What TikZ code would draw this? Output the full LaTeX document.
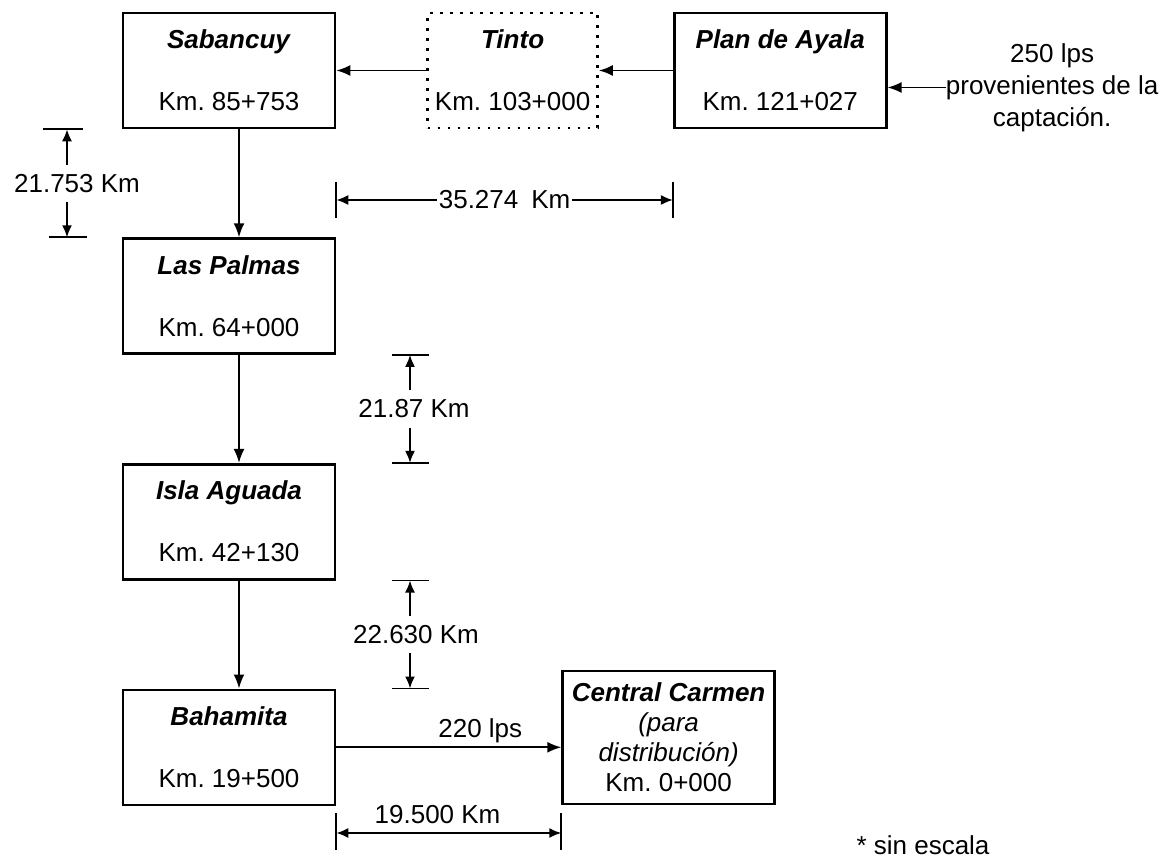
\documentclass[tikz,border=0pt]{standalone}
\usepackage{fontspec}
\setmainfont{Liberation Sans}
\usepackage{tikz}
\usetikzlibrary{positioning, arrows.meta, calc}
\frenchspacing

\begin{document}
\begin{tikzpicture}[
    node distance=54pt and 45pt,
    block/.style={
        rectangle, draw=black, line width=1.3pt, fill=white,
        minimum width=106pt, minimum height=57.5pt,
        inner sep=2pt, align=center,
        font=\fontsize{13}{15}\selectfont
    },
    arrow/.style={-{Latex[length=7pt, width=5.5pt]}, line width=0.9pt},
    dim/.style={-{Latex[length=6pt, width=5pt]}, line width=0.9pt},
    dimboth/.style={{Latex[length=6pt, width=5pt]}-{Latex[length=6pt, width=5pt]}, line width=0.9pt},
    tick/.style={line width=0.9pt},
    lbl/.style={font=\fontsize{13}{15}\selectfont, inner sep=4.5pt}
]

\useasboundingbox (0,0) rectangle (582.5pt,-430pt);

% Top row: intake towards Sabancuy
\node[block] (sab) at (114.5pt,-35.25pt) {\textbf{\textit{Sabancuy}}\\[16pt]Km. 85+753};
\node[block, right=45pt of sab, minimum width=85pt, dash pattern=on 1.3pt off 3.7pt] (tinto) {\textbf{\textit{Tinto}}\\[16pt]Km. 103+000};
\node[block, right=37pt of tinto] (plan) {\textbf{\textit{Plan de Ayala}}\\[16pt]Km. 121+027};
\node[lbl, inner sep=0pt, align=center, font=\fontsize{13}{16}\selectfont,
      right=29pt of plan, yshift=-8.5pt] (src) {250 lps\\provenientes de la\\captación.};

\draw[arrow] (src.west) -- (src.west -| plan.east);
\draw[arrow] (plan.west) -- (tinto.east);
\draw[arrow] (tinto.west) -- (sab.east);

% Column down to Bahamita
\node[block, below=of sab] (lasp) {\textbf{\textit{Las Palmas}}\\[16pt]Km. 64+000};
\node[block, below=of lasp] (isla) {\textbf{\textit{Isla Aguada}}\\[16pt]Km. 42+130};
\node[block, below=of isla] (bah) {\textbf{\textit{Bahamita}}\\[16pt]Km. 19+500};
\node[block, right=112.5pt of bah, yshift=5pt, minimum height=66.5pt] (cen)
    {\textbf{\textit{Central Carmen}}\\\textit{(para}\\\textit{distribución)}\\Km. 0+000};

\draw[arrow] ([xshift=5pt]sab.south) -- ([xshift=5pt]lasp.north);
\draw[arrow] ([xshift=5pt]lasp.south) -- ([xshift=5pt]isla.north);
\draw[arrow] ([xshift=5pt]isla.south) -- ([xshift=5pt]bah.north);
\draw[arrow] (bah.east) -- node[lbl, above, pos=0.64, inner sep=2pt] (flow) {220 lps} (bah.east -| cen.west);

% 21.753 Km
\coordinate (dimAx) at (33.5pt,0);
\coordinate (aT) at (dimAx |- sab.south);
\coordinate (aB) at (dimAx |- lasp.north);
\node[lbl, xshift=5pt] (dimA) at ($(aT)!0.5!(aB)$) {21.753 Km};
\draw[dim] (aT |- dimA.north) -- (aT);
\draw[dim] (aT |- dimA.south) -- (aB);
\draw[tick] ([xshift=-12pt]aT) -- ([xshift=8pt]aT);
\draw[tick] ([xshift=-9pt]aB) -- ([xshift=10pt]aB);

% 35.274 Km
\coordinate (dimBy) at (0,-100pt);
\coordinate (bL) at (sab.east |- dimBy);
\coordinate (bR) at (plan.west |- dimBy);
\draw[dimboth] (bL) -- node[lbl, fill=white, inner sep=1pt] (dimB) {35.274\hspace{0.5em}Km} (bR);
\draw[tick] ([yshift=9pt]bL) -- ([yshift=-9pt]bL);
\draw[tick] ([yshift=9pt]bR) -- ([yshift=-9pt]bR);

% 21.87 Km and 22.630 Km
\coordinate (dimVx) at (205pt,0);
\coordinate (cT) at (dimVx |- lasp.south);
\coordinate (cB) at (dimVx |- isla.north);
\node[lbl, xshift=2pt] (dimC) at ($(cT)!0.5!(cB)$) {21.87 Km};
\draw[dim] (cT |- dimC.north) -- (cT);
\draw[dim] (cT |- dimC.south) -- (cB);
\draw[tick] ([xshift=-9pt]cT) -- ([xshift=9.5pt]cT);
\draw[tick] ([xshift=-9pt]cB) -- ([xshift=9.5pt]cB);

\coordinate (dT) at (dimVx |- isla.south);
\coordinate (dB) at (dimVx |- bah.north);
\node[lbl, xshift=3pt] (dimD) at ($(dT)!0.5!(dB)$) {22.630 Km};
\draw[dim] (dT |- dimD.north) -- (dT);
\draw[dim] (dT |- dimD.south) -- (dB);
\draw[tick] ([xshift=-9pt]dT) -- ([xshift=9.5pt]dT);
\draw[tick] ([xshift=-9pt]dB) -- ([xshift=9.5pt]dB);

% 19.500 Km
\coordinate (dimEy) at (0,-416.5pt);
\coordinate (eL) at (bah.east |- dimEy);
\coordinate (eR) at (cen.west |- dimEy);
\draw[dimboth] (eL) -- node[lbl, above, pos=0.45, inner sep=4pt] (dimE) {19.500 Km} (eR);
\draw[tick] ([yshift=10pt]eL) -- ([yshift=-8.5pt]eL);
\draw[tick] ([yshift=10pt]eR) -- ([yshift=-8.5pt]eR);

\node[lbl, inner sep=0pt] (note) at (461.5pt,-422.5pt) {* sin escala};

\end{tikzpicture}
\end{document}
